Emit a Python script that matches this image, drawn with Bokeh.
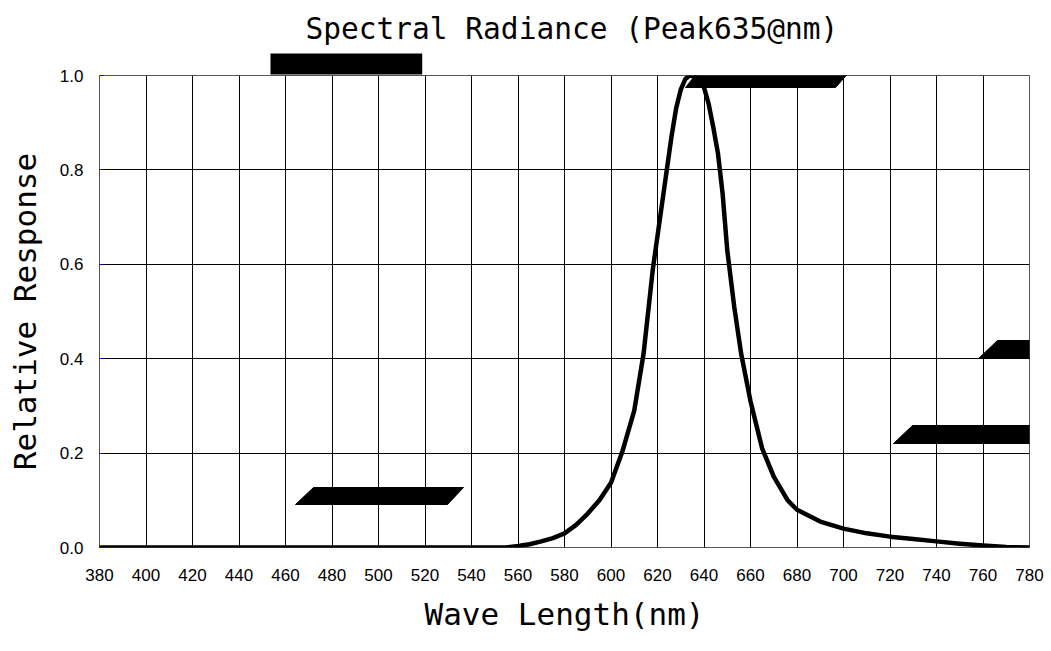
from bokeh.plotting import figure
from bokeh.models import Range1d, FixedTicker, PolyAnnotation, Title, CustomJSTickFormatter
from bokeh.embed import file_html
from bokeh.resources import INLINE

wavelength = [380, 400, 420, 440, 460, 480, 500, 520, 540, 550, 555, 560, 565, 570, 575,
              580, 585, 590, 595, 600, 605, 610, 614, 618, 620, 622, 624, 626, 628, 630,
              632, 634, 636, 638, 640, 642, 644, 646, 648, 650, 653, 656, 660, 665, 670,
              676, 680, 690, 700, 710, 720, 730, 740, 750, 760, 770, 780]
response = [0.0, 0.0, 0.0, 0.0, 0.0, 0.0, 0.0, 0.0, 0.0, 0.0, 0.0, 0.003, 0.007, 0.013, 0.02,
            0.03, 0.048, 0.072, 0.10, 0.137, 0.205, 0.29, 0.41, 0.59, 0.66, 0.73, 0.80, 0.87, 0.93, 0.97,
            0.993, 1.0, 0.998, 0.99, 0.975, 0.94, 0.89, 0.835, 0.75, 0.63, 0.51, 0.41, 0.31, 0.21, 0.15,
            0.10, 0.08, 0.055, 0.04, 0.03, 0.023, 0.018, 0.013, 0.008, 0.004, 0.001, 0.0]

x_ticks = list(range(380, 781, 20))
y_ticks = [0.0, 0.2, 0.4, 0.6, 0.8, 1.0]

title_text = "Spectral Radiance (Peak635@nm)"
x_label = "Wave Length(nm)"
y_label = "Relative Response"

p = figure(width=1051, height=651, output_backend="svg", toolbar_location=None,
           x_range=Range1d(380, 780), y_range=Range1d(0, 1.0),
           min_border_left=99, min_border_right=22, min_border_top=75, min_border_bottom=104)

# black redaction bar above the frame, drawn as a title-panel box
bar_title = Title(text="\u00a0" * 14, align="left", offset=171, standoff=2,
                  text_font="DejaVu Sans Mono", text_font_size="18px",
                  background_fill_color="black", background_fill_alpha=1.0)
main_title = Title(text=title_text, align="left", offset=206, standoff=9,
                   text_font="DejaVu Sans Mono", text_font_size="29.5px",
                   text_font_style="normal", text_color="black")
p.add_layout(bar_title, "above")
p.add_layout(main_title, "above")

p.outline_line_color = "#555555"
p.outline_line_width = 1

p.xaxis.ticker = FixedTicker(ticks=x_ticks)
p.yaxis.ticker = FixedTicker(ticks=y_ticks)
p.yaxis.formatter = CustomJSTickFormatter(code="return tick.toFixed(1);")

for ax in (p.xaxis, p.yaxis):
    ax.axis_line_color = None
    ax.minor_tick_line_color = None
    ax.major_label_text_font = "Liberation Sans"
    ax.major_label_text_font_size = "17px"
    ax.major_label_text_color = "black"
    ax.axis_label_text_font = "DejaVu Sans Mono"
    ax.axis_label_text_font_size = "31px"
    ax.axis_label_text_font_style = "normal"
    ax.axis_label_text_color = "black"

p.xaxis.major_tick_line_color = None
p.xaxis.major_label_standoff = 15
p.xaxis.axis_label = x_label
p.xaxis.axis_label_standoff = 12

p.yaxis.major_tick_line_color = "blue"
p.yaxis.major_tick_in = 4
p.yaxis.major_tick_out = 0
p.yaxis.major_label_standoff = 16
p.yaxis.axis_label = y_label
p.yaxis.axis_label_standoff = 14

p.xgrid.ticker = FixedTicker(ticks=x_ticks)
p.ygrid.ticker = FixedTicker(ticks=y_ticks)
p.grid.grid_line_color = "black"
p.grid.grid_line_width = 1
p.grid.grid_line_alpha = 1.0

p.line(wavelength, response, line_color="black", line_width=4.5, line_join="round", line_cap="round")

# black redaction bars overlaid on the original image (frame pixels, y up from frame bottom)
bars = [
    ([586, 601, 753, 736], [460, 479, 479, 460]),
    ([196, 214, 364, 348], [43, 60, 60, 43]),
    ([879, 898, 960, 960], [189, 207, 207, 189]),
    ([794, 813, 960, 954], [104, 122, 122, 104]),
]
for xs, ys in bars:
    p.add_layout(PolyAnnotation(xs=xs, ys=ys, xs_units="screen", ys_units="screen",
                                fill_color="black", fill_alpha=1.0, line_color="black",
                                line_alpha=1.0, level="overlay"))

open("out.html", "w").write(file_html(p, INLINE))
